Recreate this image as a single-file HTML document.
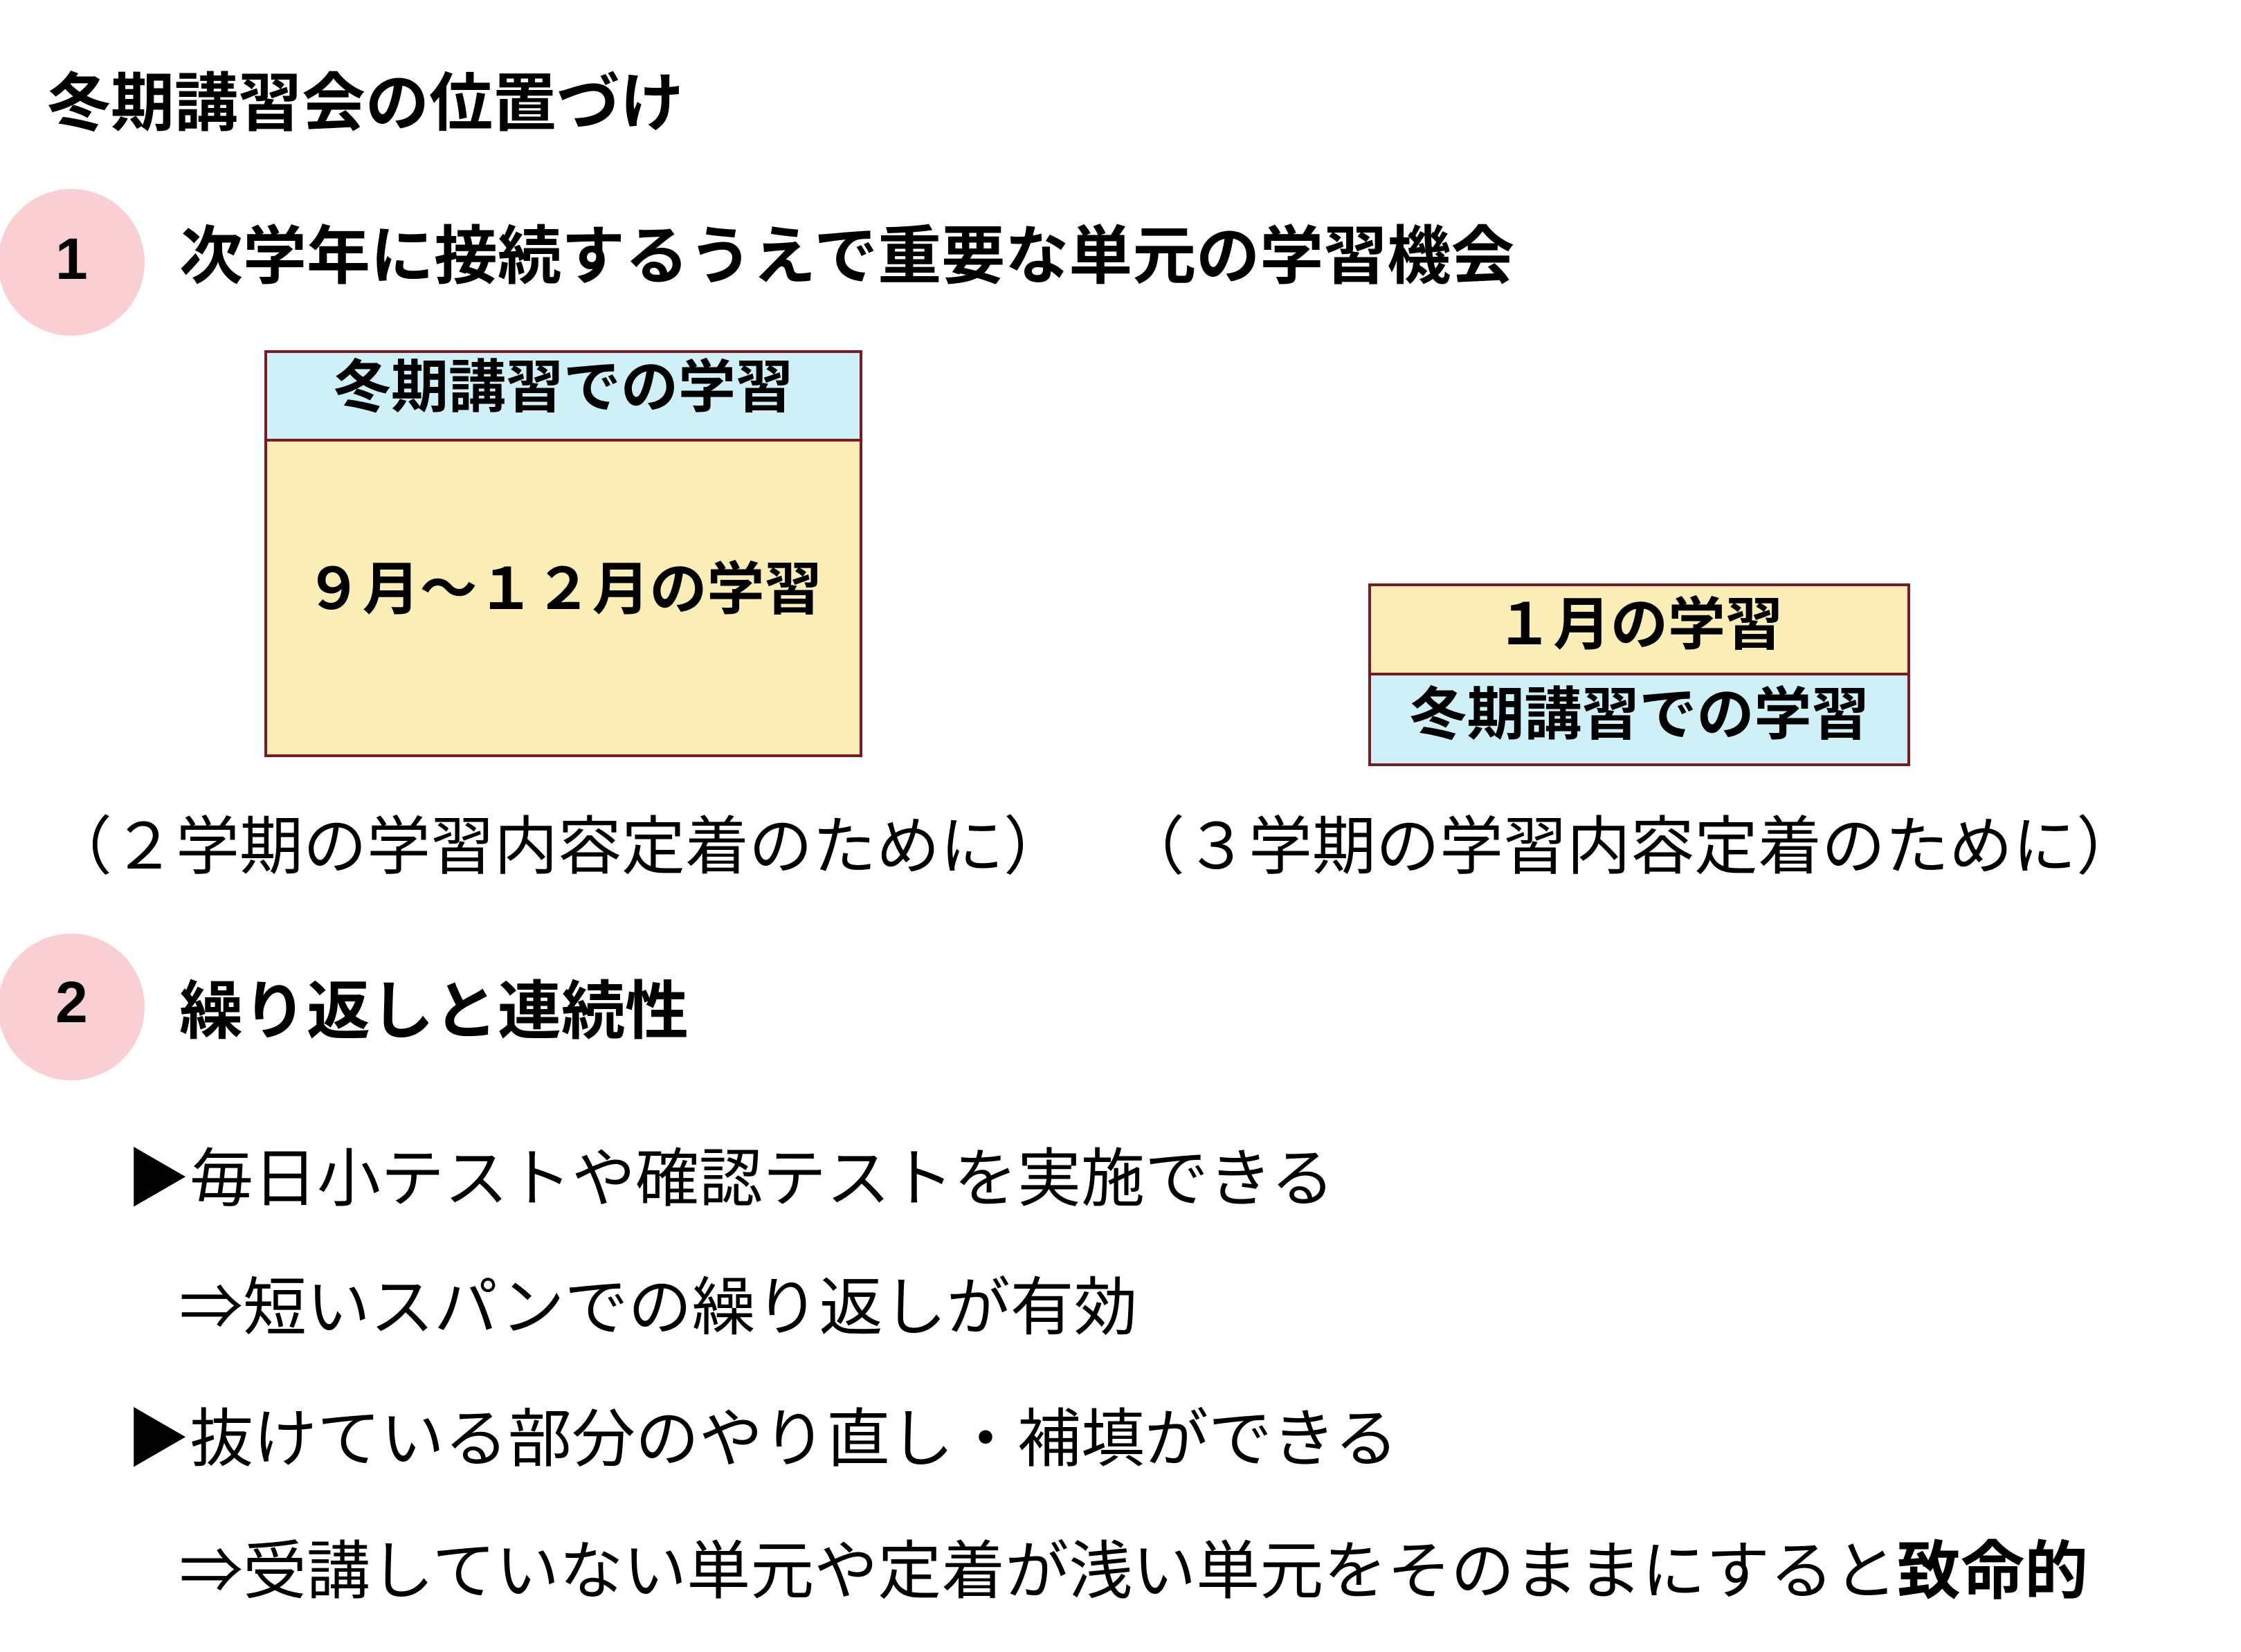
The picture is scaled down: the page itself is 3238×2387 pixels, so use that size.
<!DOCTYPE html>
<html><head><meta charset="utf-8"><style>
html,body{margin:0;padding:0;background:#fff;}
body{width:3238px;height:2387px;position:relative;overflow:hidden;font-family:"Liberation Sans","Noto Sans CJK JP",sans-serif;color:#000;}
.t{position:absolute;white-space:nowrap;line-height:1;}
.b{font-weight:bold;}
.c{position:absolute;border-radius:50%;background:#f9cfd3;width:212px;height:212px;}
.box{position:absolute;box-sizing:border-box;border:4px solid #7a1a22;}
</style></head><body>
<div class="t b" style="left:68px;top:104px;font-size:92px;">冬期講習会の位置づけ</div>

<div class="c" style="left:-3px;top:273px;"></div>
<div class="t b" style="left:80px;top:332px;font-size:84px;">1</div>
<div class="t b" style="left:259px;top:325px;font-size:92px;">次学年に接続するうえで重要な単元の学習機会</div>

<div class="box" style="left:382px;top:506px;width:864px;height:588px;background:#faeeb6;"></div>
<div class="box" style="left:382px;top:506px;width:864px;height:132px;background:#d0f0f8;"></div>
<div class="t b" style="left:382px;width:864px;text-align:center;top:518px;font-size:83px;">冬期講習での学習</div>
<div class="t b" style="left:382px;width:864px;text-align:center;top:810px;font-size:83px;">９月～１２月の学習</div>

<div class="box" style="left:1977px;top:843px;width:783px;height:264px;background:#d0f0f8;"></div>
<div class="box" style="left:1977px;top:843px;width:783px;height:133px;background:#faeeb6;"></div>
<div class="t b" style="left:1977px;width:783px;text-align:center;top:861px;font-size:83px;">１月の学習</div>
<div class="t b" style="left:1977px;width:783px;text-align:center;top:991px;font-size:83px;">冬期講習での学習</div>

<div class="t" style="left:70px;top:1178px;font-size:92px;">（２学期の学習内容定着のために）</div>
<div class="t" style="left:1620px;top:1178px;font-size:92px;">（３学期の学習内容定着のために）</div>

<div class="c" style="left:-3px;top:1349px;"></div>
<div class="t b" style="left:80px;top:1406px;font-size:84px;">2</div>
<div class="t b" style="left:259px;top:1416px;font-size:92px;">繰り返しと連続性</div>

<div class="t" style="left:182px;top:1658px;font-size:92px;">▶毎日小テストや確認テストを実施できる</div>
<div class="t" style="left:259px;top:1844px;font-size:92px;">⇒短いスパンでの繰り返しが有効</div>
<div class="t" style="left:182px;top:2034px;font-size:92px;">▶抜けている部分のやり直し・補填ができる</div>
<div class="t" style="left:259px;top:2225px;font-size:92px;">⇒受講していない単元や定着が浅い単元をそのままにすると<b>致命的</b></div>
</body></html>
